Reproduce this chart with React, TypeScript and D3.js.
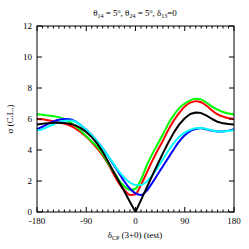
import { curveLinear, curveMonotoneX, line, range, scaleLinear } from "d3";

const deltas = range(-180, 181, 10);

// sigma values, one per 10 degrees of delta_CP
const black = [5.65, 5.7, 5.73, 5.76, 5.76, 5.74, 5.69, 5.59, 5.41, 5.16, 4.83, 4.41, 3.89, 3.25, 2.6, 1.95, 1.3, 0.65, 0, 0.77, 1.54, 2.3, 3.05, 3.78, 4.48, 5.12, 5.65, 6.05, 6.32, 6.42, 6.38, 6.22, 6.0, 5.82, 5.72, 5.67, 5.65];
const red = [6.0, 5.98, 5.92, 5.85, 5.78, 5.7, 5.58, 5.4, 5.15, 4.85, 4.5, 4.1, 3.65, 3.1, 2.45, 1.85, 1.4, 1.1, 1.15, 1.75, 2.5, 3.25, 3.95, 4.6, 5.3, 5.9, 6.4, 6.8, 7.05, 7.15, 7.08, 6.85, 6.55, 6.3, 6.15, 6.05, 6.0];
const green = [6.3, 6.27, 6.22, 6.18, 6.12, 6.0, 5.8, 5.55, 5.25, 4.9, 4.55, 4.2, 3.75, 3.15, 2.6, 2.05, 1.65, 1.42, 1.5, 2.1, 2.95, 3.7, 4.35, 5.0, 5.7, 6.25, 6.7, 7.0, 7.2, 7.3, 7.25, 7.05, 6.8, 6.6, 6.45, 6.35, 6.3];
const blue = [5.35, 5.5, 5.68, 5.85, 5.95, 6.0, 5.98, 5.85, 5.6, 5.3, 4.95, 4.55, 4.1, 3.6, 3.05, 2.5, 1.95, 1.5, 1.2, 1.1, 1.35, 1.85, 2.4, 2.95, 3.5, 4.05, 4.55, 4.95, 5.22, 5.36, 5.4, 5.33, 5.25, 5.2, 5.2, 5.25, 5.35];
const cyan = [5.25, 5.35, 5.5, 5.65, 5.8, 5.88, 5.9, 5.82, 5.6, 5.3, 4.95, 4.55, 4.1, 3.6, 3.1, 2.6, 2.2, 1.9, 1.75, 1.75, 1.95, 2.35, 2.85, 3.4, 3.95, 4.45, 4.85, 5.12, 5.3, 5.4, 5.42, 5.35, 5.27, 5.2, 5.2, 5.23, 5.3];

const xTicks = [-180, -90, 0, 90, 180];
const yTicks = [0, 2, 4, 6, 8, 10, 12];

const series = [
  { name: "red", values: red, color: "#ff0000" },
  { name: "green", values: green, color: "#00ff00" },
  { name: "blue", values: blue, color: "#0000ff" },
  { name: "cyan", values: cyan, color: "#00ffff" },
  { name: "black", values: black, color: "#000000" },
];

export default function App() {
  const width = 249;
  const height = 249;
  const left = 37;
  const right = 234;
  const top = 26;
  const bottom = 212;

  const x = scaleLinear().domain([-180, 180]).range([left, right]);
  const y = scaleLinear().domain([0, 12]).range([bottom, top]);
  const font = "'Liberation Serif', 'DejaVu Serif', serif";

  const minorX = range(-180, 181, 10).filter((d) => d % 90 !== 0);

  return (
    <svg width={width} height={height} style={{ position: "absolute", left: 0, top: 0, background: "#fff" }} fontFamily={font}>
      <clipPath id="plot">
        <rect x={left} y={top} width={right - left} height={bottom - top} />
      </clipPath>
      <g clipPath="url(#plot)">
        {series.map((s) => {
          const path =
            line<number>()
              .x((_, i) => x(deltas[i]))
              .y((v) => y(v))
              .curve(s.name === "black" ? curveLinear : curveMonotoneX)(s.values) ?? "";
          return <path key={s.name} d={path} fill="none" stroke={s.color} strokeWidth={2} strokeLinejoin="round" />;
        })}
      </g>

      <rect x={left} y={top} width={right - left} height={bottom - top} fill="none" stroke="#000" strokeWidth={1} />

      {xTicks.map((t) => (
        <g key={`x${t}`}>
          <line x1={x(t)} x2={x(t)} y1={bottom} y2={bottom - 5} stroke="#000" />
          <line x1={x(t)} x2={x(t)} y1={top} y2={top + 5} stroke="#000" />
          <text x={x(t)} y={224} fontSize={9} textAnchor="middle">
            {t}
          </text>
        </g>
      ))}
      {minorX.map((t) => (
        <g key={`m${t}`}>
          <line x1={x(t)} x2={x(t)} y1={bottom} y2={bottom - 2.5} stroke="#000" />
          <line x1={x(t)} x2={x(t)} y1={top} y2={top + 2.5} stroke="#000" />
        </g>
      ))}
      {yTicks.map((t) => (
        <g key={`y${t}`}>
          <line x1={left} x2={left + 5} y1={y(t)} y2={y(t)} stroke="#000" />
          <line x1={right} x2={right - 5} y1={y(t)} y2={y(t)} stroke="#000" />
          <text x={32} y={y(t) + 3} fontSize={9} textAnchor="end">
            {t}
          </text>
        </g>
      ))}

      <text x={135} y={16} fontSize={9} textAnchor="middle">
        θ<tspan fontSize={6} dy={2}>14</tspan>
        <tspan dy={-2}> = 5</tspan>
        <tspan fontSize={6} dy={-3}>o</tspan>
        <tspan dy={3}>, θ</tspan>
        <tspan fontSize={6} dy={2}>24</tspan>
        <tspan dy={-2}> = 5</tspan>
        <tspan fontSize={6} dy={-3}>o</tspan>
        <tspan dy={3}>, δ</tspan>
        <tspan fontSize={6} dy={2}>13</tspan>
        <tspan dy={-2}>=0</tspan>
      </text>

      <text transform={`translate(13, ${(top + bottom) / 2}) rotate(-90)`} fontSize={9} textAnchor="middle">
        σ (C.L.)
      </text>

      <text x={135} y={238} fontSize={9} textAnchor="middle">
        δ<tspan fontSize={6} dy={2}>CP</tspan>
        <tspan dy={-2}> (3+0) (test)</tspan>
      </text>
    </svg>
  );
}
